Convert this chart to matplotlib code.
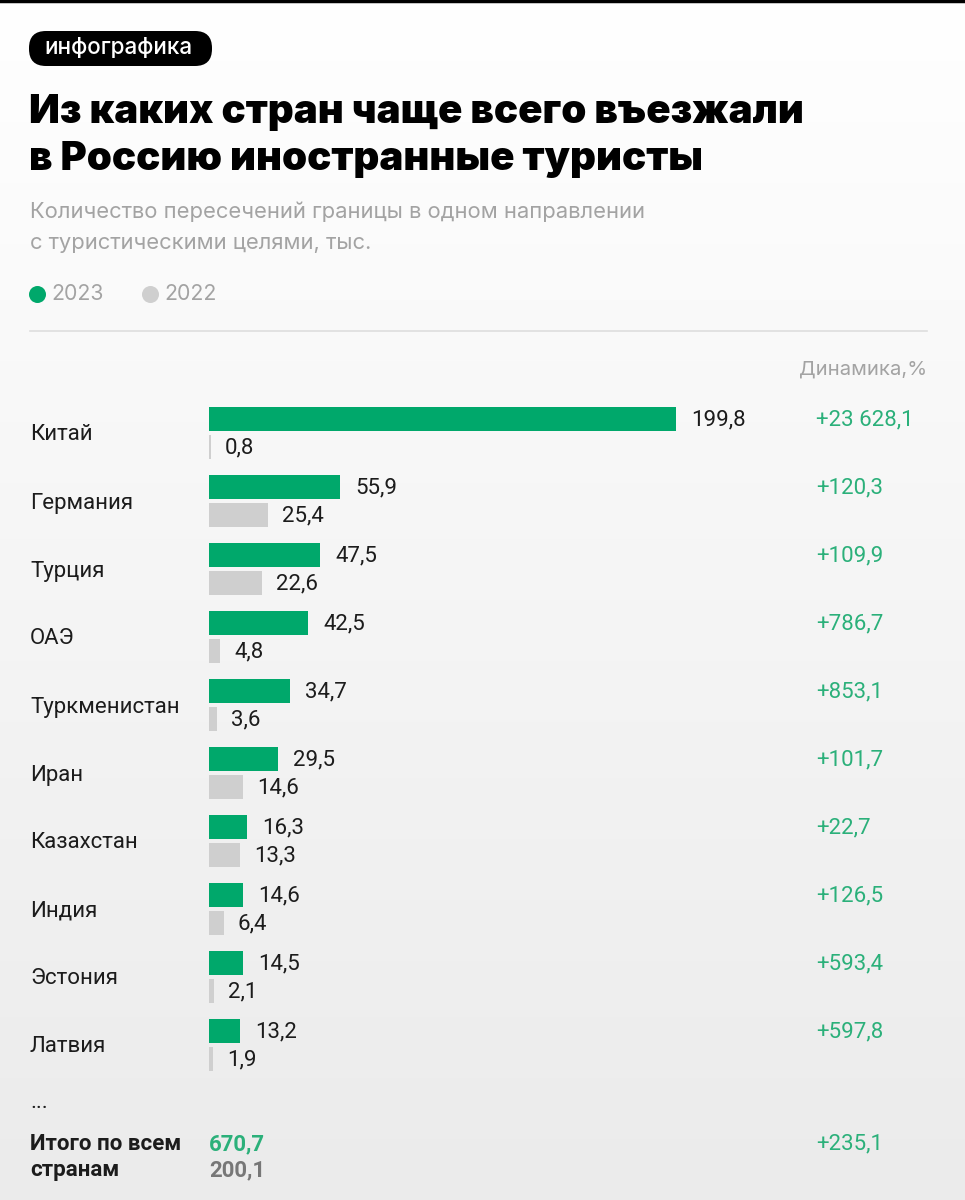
import numpy as np
import matplotlib.pyplot as plt
from matplotlib.colors import LinearSegmentedColormap
from matplotlib.patches import FancyBboxPatch

countries = ['Китай', 'Германия', 'Турция', 'ОАЭ', 'Туркменистан',
             'Иран', 'Казахстан', 'Индия', 'Эстония', 'Латвия']
v2023 = [199.8, 55.9, 47.5, 42.5, 34.7, 29.5, 16.3, 14.6, 14.5, 13.2]
v2022 = [0.8, 25.4, 22.6, 4.8, 3.6, 14.6, 13.3, 6.4, 2.1, 1.9]
dynamics = ['+23 628,1', '+120,3', '+109,9', '+786,7', '+853,1',
            '+101,7', '+22,7', '+126,5', '+593,4', '+597,8']
total_2023 = '670,7'
total_2022 = '200,1'
total_dyn = '+235,1'

GREEN = '#00a86b'
GREEN_TXT = '#2bb07a'
GREY_BAR = '#cfcfcf'
GREY_TXT = '#a3a3a3'
DARK = '#1c1c1c'
FS = 16

W, H = 965, 1200
fig = plt.figure(figsize=(W / 100, H / 100), dpi=100)

# background axes in pixel coordinates
bg = fig.add_axes([0, 0, 1, 1])
bg.set_xlim(0, W)
bg.set_ylim(H, 0)
bg.axis('off')
cmap = LinearSegmentedColormap.from_list('bg', ['#ffffff', '#ebebeb'])
grad = np.linspace(0, 1, 256)[:, None]
bg.imshow(grad, extent=[0, W, H, 0], cmap=cmap, aspect='auto', zorder=0)
bg.plot([0, W], [1, 1], color='black', lw=2.5, zorder=1)

# badge
badge = FancyBboxPatch((29, 31), 183, 35, boxstyle='round,pad=0,rounding_size=17',
                       fc='black', ec='none', zorder=2)
bg.add_patch(badge)
bg.text(118, 48, 'инфографика', color='white', fontsize=16.2, fontfamily='Inter',
        fontweight='medium', ha='center', va='center', zorder=3)

# title
bg.text(29, 123, 'Из каких стран чаще всего въезжали', fontsize=28.9, fontfamily='Inter',
        fontweight='black', color='black', va='baseline', zorder=3)
bg.text(29, 170, 'в Россию иностранные туристы', fontsize=28.9, fontfamily='Inter',
        fontweight='black', color='black', va='baseline', zorder=3)

# subtitle
bg.text(30, 218, 'Количество пересечений границы в одном направлении', fontsize=15.8,
        fontfamily='Inter', color=GREY_TXT, va='baseline', zorder=3)
bg.text(30, 249, 'с туристическими целями, тыс.', fontsize=15.8,
        fontfamily='Inter', color=GREY_TXT, va='baseline', zorder=3)

# legend
bg.scatter([37], [294], s=150, color=GREEN, zorder=3, lw=0)
bg.text(51, 294, '2023', fontsize=15.3, fontfamily='Inter', color=GREY_TXT,
        va='center', zorder=3)
bg.scatter([150], [294], s=150, color=GREY_BAR, zorder=3, lw=0)
bg.text(164, 294, '2022', fontsize=15.3, fontfamily='Inter', color=GREY_TXT,
        va='center', zorder=3)

bg.plot([30, 927], [331, 331], color='#dedede', lw=1.2, zorder=2)
bg.text(927, 370, 'Динамика,%', fontsize=14.6, fontfamily='Inter', color=GREY_TXT,
        ha='right', va='center', zorder=3)

# bar axes: x in thousands, y in rows
row_top, row_h = 399, 68
n = len(countries)
ax_left, px_per_unit, xmax = 209, 2.337, 300
ax = fig.add_axes([ax_left / W, 1 - (row_top + row_h * n) / H,
                   xmax * px_per_unit / W, row_h * n / H])
ax.set_xlim(0, xmax)
ax.set_ylim(n - 0.5, -0.5)
ax.axis('off')
ax.patch.set_alpha(0)

y = np.arange(n)
off = 14 / row_h
bh = 24.5 / row_h
ax.barh(y - off, v2023, height=bh, color=GREEN, zorder=3)
ax.barh(y + off, v2022, height=bh, color=GREY_BAR, zorder=3)

for i in range(n):
    ax.annotate(f'{v2023[i]:.1f}'.replace('.', ','), (v2023[i], i - off),
                xytext=(11, -1), textcoords='offset points', va='center',
                fontsize=FS, fontfamily='Roboto', color=DARK)
    ax.annotate(f'{v2022[i]:.1f}'.replace('.', ','), (v2022[i], i + off),
                xytext=(10, -1), textcoords='offset points', va='center',
                fontsize=FS, fontfamily='Roboto', color=DARK)
    bg.text(30, row_top + row_h * (i + 0.5) + 2, countries[i], fontsize=FS,
            fontfamily='Roboto', color=DARK, va='center', zorder=3)
    ax.annotate(dynamics[i], (0, i - off), xytext=((816 - ax_left) * 0.72, -1),
                textcoords='offset points', va='center', fontsize=FS,
                fontfamily='Roboto', color=GREEN_TXT)

# totals
bg.text(30, 1103, '...', fontsize=FS, fontfamily='Roboto', color=DARK,
        va='center', zorder=3)
bg.text(30, 1144, 'Итого по всем', fontsize=FS, fontfamily='Roboto',
        fontweight='bold', color=DARK, va='center', zorder=3)
bg.text(30, 1170, 'странам', fontsize=FS, fontfamily='Roboto',
        fontweight='bold', color=DARK, va='center', zorder=3)
bg.text(209, 1144, total_2023, fontsize=FS, fontfamily='Roboto',
        fontweight='bold', color=GREEN_TXT, va='center', zorder=3)
bg.text(209, 1170, total_2022, fontsize=FS, fontfamily='Roboto',
        fontweight='bold', color='#777777', va='center', zorder=3)
bg.text(816, 1144, total_dyn, fontsize=FS, fontfamily='Roboto',
        color=GREEN_TXT, va='center', zorder=3)

fig.savefig('out.png', dpi=100)
